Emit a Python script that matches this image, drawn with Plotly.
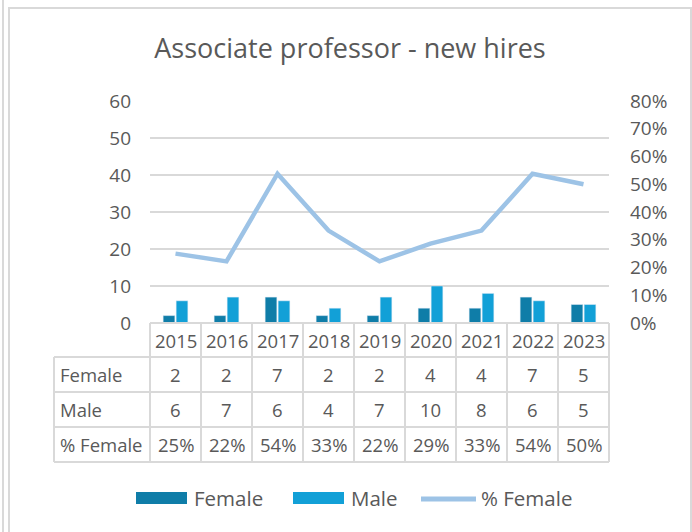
import plotly.graph_objects as go

years = ["2015", "2016", "2017", "2018", "2019", "2020", "2021", "2022", "2023"]
female = [2, 2, 7, 2, 2, 4, 4, 7, 5]
male = [6, 7, 6, 4, 7, 10, 8, 6, 5]
pct_female = [0.25, 0.222, 0.538, 0.333, 0.222, 0.286, 0.333, 0.538, 0.50]
pct_labels = ["25%", "22%", "54%", "33%", "22%", "29%", "33%", "54%", "50%"]
row_labels = ["Female", "Male", "% Female"]

C_F = "#0F7DA8"
C_M = "#12A0D7"
C_L = "#9DC3E6"
TXT = "#595959"
GRID = "#D9D9D9"
FONT = "Open Sans"

W, H = 692, 532
L, R, T, B = 150, 83, 101, 209
PW = W - L - R
PH = H - T - B


def px(x):
    return (x - L) / PW


def py(y):
    return (H - B - y) / PH


fig = go.Figure()
fig.add_trace(go.Bar(x=years, y=female, name="Female", marker=dict(color=C_F), showlegend=False))
fig.add_trace(go.Bar(x=years, y=male, name="Male", marker=dict(color=C_M), showlegend=False))
fig.add_trace(go.Scatter(x=years, y=pct_female, name="% Female", yaxis="y2", mode="lines",
                         line=dict(color=C_L, width=4.5), showlegend=False))

shapes = []
annotations = []


def line(x0, y0, x1, y1, color=GRID, width=2):
    shapes.append(dict(type="line", xref="paper", yref="paper", x0=px(x0), y0=py(y0),
                       x1=px(x1), y1=py(y1), line=dict(color=color, width=width)))


def text(x, y, s, anchor="center", size=18.5):
    annotations.append(dict(xref="paper", yref="paper", x=px(x), y=py(y), text=s,
                            showarrow=False, xanchor=anchor, yanchor="middle",
                            font=dict(family=FONT, size=size, color=TXT)))


# data table
n = len(years)
cw = PW / n
top = H - B
rows_y = [top, top + 34, top + 69, top + 104, top + 139]
lab_x = 54
for y in rows_y[1:]:
    line(lab_x, y, L + PW, y)
line(L, top, L + PW, top)
line(lab_x, rows_y[1], lab_x, rows_y[-1])
for i in range(n + 1):
    line(L + i * cw, top, L + i * cw, rows_y[-1])

for i, yr in enumerate(years):
    cx = L + (i + 0.5) * cw
    text(cx, (rows_y[0] + rows_y[1]) / 2, yr)
    text(cx, (rows_y[1] + rows_y[2]) / 2, str(female[i]))
    text(cx, (rows_y[2] + rows_y[3]) / 2, str(male[i]))
    text(cx, (rows_y[3] + rows_y[4]) / 2, pct_labels[i])
for j, lab in enumerate(row_labels):
    text(lab_x + 4, (rows_y[j + 1] + rows_y[j + 2]) / 2, lab, anchor="left")

# legend (drawn manually)
shapes.append(dict(type="rect", xref="paper", yref="paper", x0=px(136), x1=px(187),
                   y0=py(492), y1=py(504), fillcolor=C_F, line=dict(width=0)))
text(192, 498, "Female", anchor="left", size=20.5)
shapes.append(dict(type="rect", xref="paper", yref="paper", x0=px(293), x1=px(344),
                   y0=py(492), y1=py(504), fillcolor=C_M, line=dict(width=0)))
text(349, 498, "Male", anchor="left", size=20.5)
line(421, 499, 476, 499, color=C_L, width=5)
text(479, 498, "% Female", anchor="left", size=20.5)

# chart frame
line(3, 0, 3, H, color="#D9D9D9", width=2)
shapes.append(dict(type="rect", xref="paper", yref="paper", x0=px(9), x1=px(691),
                   y0=py(8), y1=py(H + 20), line=dict(color="#D9D9D9", width=2)))

fig.update_layout(
    width=W, height=H,
    margin=dict(l=L, r=R, t=T, b=B),
    paper_bgcolor="white", plot_bgcolor="white",
    barmode="group", bargap=0.49, bargroupgap=0.1,
    title=dict(text="Associate professor - new hires", xref="container", x=350 / W,
               xanchor="center", yref="container", y=1 - 49 / H, yanchor="middle",
               font=dict(family=FONT, size=27, color=TXT)),
    xaxis=dict(type="category", range=[-0.5, n - 0.5], showticklabels=False,
               showgrid=False, zeroline=False, showline=False, ticks=""),
    yaxis=dict(range=[0, 60], dtick=10, showgrid=True, gridcolor=GRID, gridwidth=1.5,
               zeroline=False, showline=False, ticks="", ticklabelstandoff=18,
               tickfont=dict(family=FONT, size=19, color=TXT)),
    yaxis2=dict(range=[0, 0.8], dtick=0.1, tickformat=".0%", overlaying="y", side="right",
                showgrid=False, zeroline=False, showline=False, ticks="", ticklabelstandoff=20,
                tickfont=dict(family=FONT, size=19, color=TXT)),
    shapes=shapes,
    annotations=annotations,
    showlegend=False,
)

fig.write_html("out.html", config={"displayModeBar": False},
               post_script="document.body.style.margin='0';")
